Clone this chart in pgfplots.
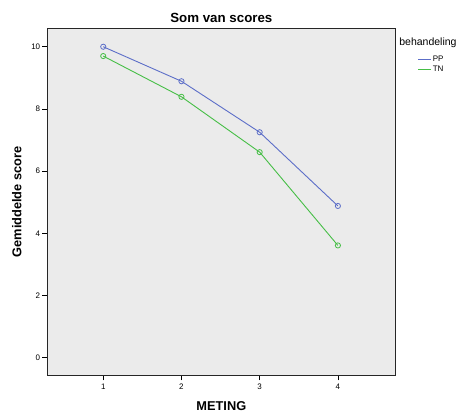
\documentclass[border=0pt]{standalone}
\usepackage{pgfplots}
\pgfplotsset{compat=1.18}
\usepackage{fontspec}
\setmainfont{Liberation Sans}
\definecolor{ppblue}{RGB}{92,110,200}
\definecolor{tngreen}{RGB}{70,190,70}
\definecolor{bgc}{RGB}{235,235,235}
\begin{document}
\begin{tikzpicture}
\useasboundingbox (-47.7pt,-42pt) rectangle (415.3pt,375pt);
\begin{axis}[
  scale only axis,
  width=347.3pt, height=346.3pt,
  xmin=0.29, xmax=4.73,
  ymin=-0.556, ymax=10.58,
  xtick={1,2,3,4}, ytick={0,2,4,6,8,10},
  xtick pos=left, ytick pos=left,
  tick align=outside,
  major tick length=5.5pt,
  tick style={black, line width=0.6pt},
  axis line style={black!85, line width=0.8pt},
  axis background/.style={fill=bgc},
  /pgf/number format/assume math mode=true,
  ticklabel style={font=\fontsize{8}{9}\selectfont},
  yticklabel style={xshift=1.5pt},
  xticklabel style={yshift=0.5pt},
  title={\textbf{Som van scores}},
  title style={font=\fontsize{13.3}{15}\selectfont, yshift=-3.5pt},
  xlabel={\textbf{METING}},
  ylabel={\textbf{Gemiddelde score}},
  label style={font=\fontsize{12.8}{14}\selectfont},
  xlabel style={yshift=-6pt},
  ylabel style={yshift=3pt},
  legend style={at={(rel axis cs:1.065,0.925)}, anchor=north west, draw=none, fill=none,
    font=\fontsize{8}{9}\selectfont, row sep=0.8pt, inner sep=0pt,
    nodes={inner sep=1pt}},
  legend cell align=left,
  legend image code/.code={\draw[#1, mark=none, line width=1pt] (0pt,0pt) -- (13pt,0pt);},
  every axis plot/.append style={line width=0.9pt, mark=o, mark size=2.6pt, mark options={line width=0.8pt}},
  clip=false,
]
\addplot[ppblue] coordinates {(1,10.00) (2,8.89) (3,7.25) (4,4.88)};
\addlegendentry{PP}
\addplot[tngreen] coordinates {(1,9.70) (2,8.39) (3,6.61) (4,3.61)};
\addlegendentry{TN}
\node[anchor=west, font=\fontsize{10.5}{12}\selectfont, inner sep=0pt] at (rel axis cs:1.012,0.958) {behandeling};
\end{axis}
\end{tikzpicture}
\end{document}
